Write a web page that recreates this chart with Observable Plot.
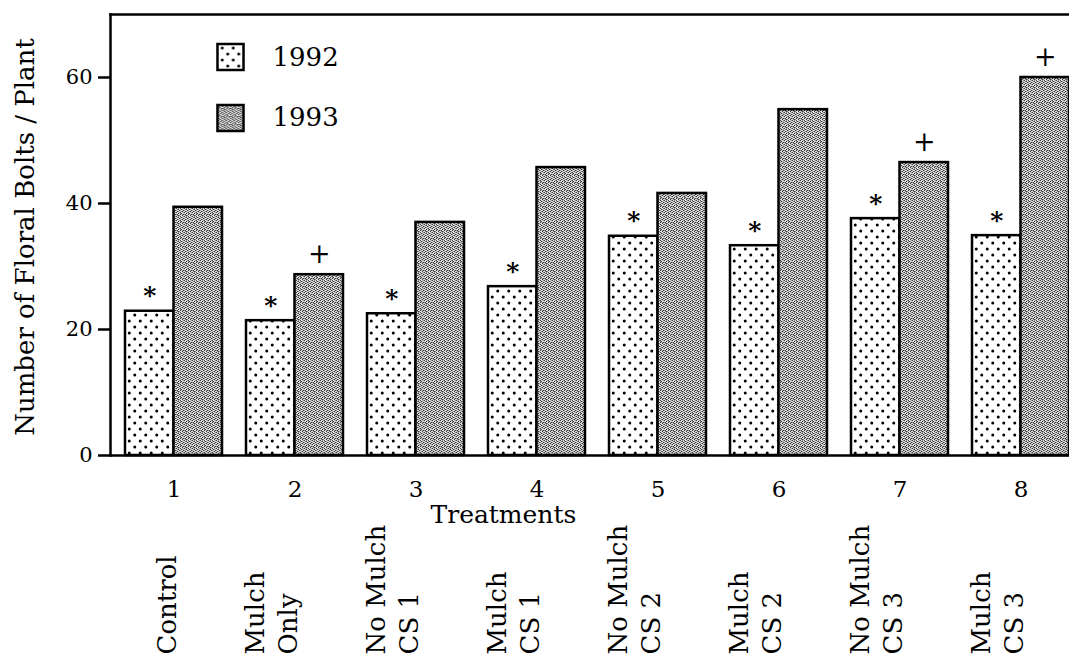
<!DOCTYPE html>
<html><head><meta charset="utf-8">
<script src="https://cdn.jsdelivr.net/npm/d3@7"></script>
<script src="https://cdn.jsdelivr.net/npm/@observablehq/plot@0.6"></script>
<style>html,body{margin:0;padding:0;background:#fff} svg{display:block}</style>
</head><body><div id="chart"></div>
<script>
// ---- data ----
const treatments = ["1","2","3","4","5","6","7","8"];
const treatmentNames = ["Control","Mulch\nOnly","No Mulch\nCS 1","Mulch\nCS 1","No Mulch\nCS 2","Mulch\nCS 2","No Mulch\nCS 3","Mulch\nCS 3"];
const years = ["1992","1993"];
const bolts1992 = [22.9, 21.4, 22.5, 26.8, 34.8, 33.3, 37.6, 34.9];
const bolts1993 = [39.4, 28.7, 37.0, 45.7, 41.6, 54.9, 46.5, 60.0];
const sig1992 = ["*","*","*","*","*","*","*","*"];
const sig1993 = ["","+","","","","","+","+"];
const yTicks = [0, 20, 40, 60];
const yTitle = "Number of Floral Bolts / Plant";
const xTitle = "Treatments";

const rows = treatments.map((t, i) => ({
  t, name: treatmentNames[i], v92: bolts1992[i], v93: bolts1993[i], s92: sig1992[i], s93: sig1993[i]
}));

const FONT = "DejaVu Serif";

function build(half) {
  return Plot.plot({
    width: 1069, height: 659,
    marginTop: 14, marginBottom: 204, marginLeft: 110, marginRight: 0,
    style: {fontFamily: FONT, fontSize: "21px", background: "white", color: "black"},
    x: {type: "band", domain: treatments, paddingInner: 0.2, paddingOuter: 0.0536, align: 1},
    y: {domain: [0, 70]},
    marks: [
      Plot.barY(rows, {x: "t", y: "v92", insetRight: half, fill: "url(#p1992)", stroke: "black", strokeWidth: 2.5}),
      Plot.barY(rows, {x: "t", y: "v93", insetLeft: half, fill: "url(#p1993)", stroke: "black", strokeWidth: 2.5}),
      Plot.text(rows, {x: "t", y: "v92", text: "s92", dx: -half / 2, dy: -15, fontSize: 25, fontWeight: "bold"}),
      Plot.text(rows, {x: "t", y: "v93", text: "s93", dx: half / 2, dy: -20, fontSize: 27}),
      Plot.frame({anchor: "top", strokeWidth: 2.5}),
      Plot.frame({anchor: "left", strokeWidth: 2.5}),
      Plot.ruleY([0], {strokeWidth: 2.5}),
      Plot.axisY({ticks: yTicks, tickSize: 12, tickPadding: 6, fontSize: 21, label: null, strokeWidth: 2.5}),
      Plot.axisX({tickSize: 0, tickPadding: 25, fontSize: 23, label: null}),
      Plot.text(rows, {x: "t", text: "name", frameAnchor: "bottom", rotate: -90, textAnchor: "start",
        lineAnchor: "bottom", lineHeight: 1.27, dy: 199, dx: 2, fontSize: 26}),
      Plot.text([xTitle], {text: d => d, frameAnchor: "bottom-left", textAnchor: "start", lineAnchor: "bottom",
        dx: 320, dy: 67, fontSize: 25}),
      Plot.text([yTitle], {text: d => d, frameAnchor: "left", rotate: -90, textAnchor: "middle", lineAnchor: "bottom",
        dx: -77, dy: 2, fontSize: 26}),
      // legend
      Plot.dot([years[0]], {frameAnchor: "top-left", dx: 120, dy: 42.5, symbol: "square", r: 14.7,
        fill: "url(#p1992)", stroke: "black", strokeWidth: 2.5}),
      Plot.dot([years[1]], {frameAnchor: "top-left", dx: 120, dy: 103.5, symbol: "square", r: 14.7,
        fill: "url(#p1993)", stroke: "black", strokeWidth: 2.5}),
      Plot.text([years[0]], {text: d => d, frameAnchor: "top-left", textAnchor: "start", lineAnchor: "middle",
        dx: 162, dy: 43, fontSize: 26}),
      Plot.text([years[1]], {text: d => d, frameAnchor: "top-left", textAnchor: "start", lineAnchor: "middle",
        dx: 162, dy: 103, fontSize: 26})
    ]
  });
}

const probe = build(0);
const bw = probe.scale("x").bandwidth;
const svg = build(bw / 2);

// stipple texture for the 1993 fill
const grain = ["#.+.#..+", ".+#..#+.", "+..#+..#", ".#+..+#.", "#..+#..+", "..#.+#..", "+#..#.+#", ".+#+..#."];
const shade = {"#": "#3a3a3a", "+": "#8c8c8c", ".": "#dadada"};
let cells = "";
grain.forEach((row, j) => [...row].forEach((c, i) => {
  cells += `<rect x="${i}" y="${j}" width="1" height="1" fill="${shade[c]}"/>`;
}));

d3.select(svg).insert("defs", ":first-child").html(`
  <pattern id="p1992" patternUnits="userSpaceOnUse" width="11" height="12">
    <rect width="11" height="12" fill="white"/>
    <circle cx="2.75" cy="3" r="1.5" fill="black"/>
    <circle cx="8.25" cy="9" r="1.5" fill="black"/>
  </pattern>
  <pattern id="p1993" patternUnits="userSpaceOnUse" width="8" height="8">${cells}</pattern>
`);
document.getElementById("chart").appendChild(svg);
</script>
</body></html>
